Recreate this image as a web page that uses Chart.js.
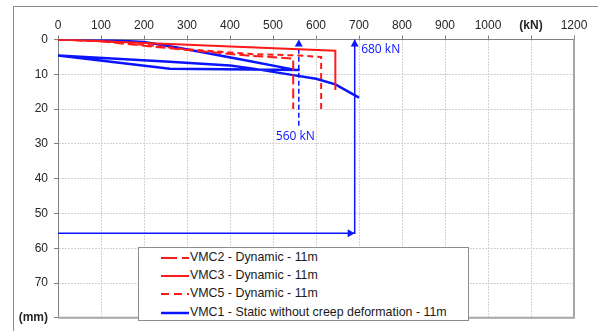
<!DOCTYPE html>
<html>
<head>
<meta charset="utf-8">
<script src="https://cdn.jsdelivr.net/npm/chart.js@4.4.1/dist/chart.umd.min.js"></script>
<style>
  html, body { margin: 0; padding: 0; background: #fff; }
  #wrap { position: relative; width: 598px; height: 331px; overflow: hidden; }
  #frame { position: absolute; left: 13px; top: 6px; width: 700px; height: 400px; border: 1px solid #8c8c8c; }
  canvas { position: absolute; left: 0; top: 0; }
  #legend {
    position: absolute; left: 138px; top: 247px; width: 329px; height: 72px;
    border: 1px solid #8c8c8c; background: #fff;
    font: 12.4px "Liberation Sans", Arial, sans-serif; color: #1a1a1a;
  }
  .row { position: absolute; left: 22px; height: 14px; line-height: 14px; white-space: nowrap; }
  .row svg { position: absolute; left: 0; top: 6px; }
  .row span { position: absolute; left: 29px; top: 0; }
</style>
</head>
<body>
<div id="wrap">
  <div id="frame"></div>
  <canvas id="chart" width="598" height="331"></canvas>
  <div id="legend"></div>
</div>
<script>
// load (kN) vs settlement (mm)
const xTicks = [0, 100, 200, 300, 400, 500, 600, 700, 800, 900, 1000, 1100, 1200];
const yTicks = [0, 10, 20, 30, 40, 50, 60, 70, 80];

const vmc2Force = [0, 100, 200, 300, 440, 547, 547];
const vmc2Disp  = [0, 0.5, 1.8, 3.0, 4.6, 5.5, 20];

const vmc3Force = [0, 645, 645];
const vmc3Disp  = [0, 3.2, 14.5];

const vmc5Force = [0, 100, 200, 300, 450, 560, 612, 612];
const vmc5Disp  = [0, 0.4, 1.5, 2.8, 4.2, 4.6, 5.0, 20];

// static test: loading, unloading, reloading
const vmc1Force = [0, 100, 200, 280, 420, 555, 562, 450, 260, 0, 250, 400, 450, 540, 600, 645, 700];
const vmc1Disp  = [0, 0.1, 0.7, 2.4, 5.6, 8.8, 8.8, 8.6, 8.4, 4.6, 6.3, 7.5, 8.3, 10.1, 11.3, 12.9, 16.7];

// arrows
const arrow560Force = [560, 560];
const arrow560Disp  = [24.8, 0];
const arrow680Force = [0, 690, 690];
const arrow680Disp  = [55.7, 55.7, 0];

const RED = '#ff1a1a';
const BLUE = '#0a14ff';

function pts(xs, ys) { return xs.map((x, i) => ({ x, y: ys[i] })); }

const legendItems = [
  { label: 'VMC2 - Dynamic - 11m', color: RED, dash: '16 5', w: 2 },
  { label: 'VMC3 - Dynamic - 11m', color: RED, dash: '', w: 2 },
  { label: 'VMC5 - Dynamic - 11m', color: RED, dash: '8 5', w: 2 },
  { label: 'VMC1 - Static without creep deformation - 11m', color: BLUE, dash: '', w: 2.5 }
];

const legendEl = document.getElementById('legend');
legendItems.forEach((it, i) => {
  const row = document.createElement('div');
  row.className = 'row';
  row.style.top = (2 + i * 18.2) + 'px';
  row.innerHTML = `<svg width="28" height="4"><line x1="0" y1="2" x2="28" y2="2" stroke="${it.color}" stroke-width="${it.w}" stroke-dasharray="${it.dash}"/></svg><span>${it.label}</span>`;
  legendEl.appendChild(row);
});

const extras = {
  id: 'extras',
  afterDatasetsDraw(chart) {
    const { ctx, chartArea: a, scales: { x, y } } = chart;
    ctx.save();
    // plot right / bottom border
    ctx.strokeStyle = '#a6a6a6';
    ctx.lineWidth = 2;
    ctx.beginPath();
    ctx.moveTo(a.right, a.top);
    ctx.lineTo(a.right, a.bottom);
    ctx.lineTo(a.left, a.bottom);
    ctx.stroke();

    // arrow heads
    ctx.fillStyle = BLUE;
    const up = (fx, fy) => {
      const px = x.getPixelForValue(fx), py = y.getPixelForValue(fy);
      ctx.beginPath();
      ctx.moveTo(px, py);
      ctx.lineTo(px - 4, py + 7);
      ctx.lineTo(px + 4, py + 7);
      ctx.closePath();
      ctx.fill();
    };
    const right = (fx, fy) => {
      const px = x.getPixelForValue(fx), py = y.getPixelForValue(fy);
      ctx.beginPath();
      ctx.moveTo(px, py);
      ctx.lineTo(px - 7, py - 4);
      ctx.lineTo(px - 7, py + 4);
      ctx.closePath();
      ctx.fill();
    };
    up(arrow560Force[1], arrow560Disp[1]);
    up(arrow680Force[2], arrow680Disp[2]);
    right(arrow680Force[1], arrow680Disp[1]);

    // labels
    ctx.font = '12px "Open Sans", sans-serif';
    ctx.textBaseline = 'middle';
    ctx.textAlign = 'center';
    ctx.fillText('560 kN', x.getPixelForValue(552), y.getPixelForValue(27.9));
    ctx.textAlign = 'left';
    ctx.fillText('680 kN', x.getPixelForValue(705), y.getPixelForValue(2.8));
    ctx.restore();
  }
};

const tickFont = (special) => (c) => ({
  family: '"Liberation Sans", Arial, sans-serif',
  size: 12,
  weight: c.tick && c.tick.value === special ? 'bold' : 'normal'
});

new Chart(document.getElementById('chart').getContext('2d'), {
  type: 'line',
  data: {
    datasets: [
      { label: 'VMC2', data: pts(vmc2Force, vmc2Disp), borderColor: RED, borderWidth: 2, borderDash: [10, 4] },
      { label: 'VMC3', data: pts(vmc3Force, vmc3Disp), borderColor: RED, borderWidth: 2 },
      { label: 'VMC5', data: pts(vmc5Force, vmc5Disp), borderColor: RED, borderWidth: 2, borderDash: [6, 4] },
      { label: 'VMC1', data: pts(vmc1Force, vmc1Disp), borderColor: BLUE, borderWidth: 2.5 },
      { label: 'a560', data: pts(arrow560Force, arrow560Disp), borderColor: BLUE, borderWidth: 1.5, borderDash: [5, 3] },
      { label: 'a680', data: pts(arrow680Force, arrow680Disp), borderColor: BLUE, borderWidth: 1.5 }
    ]
  },
  options: {
    responsive: false,
    animation: false,
    events: [],
    elements: { point: { radius: 0 }, line: { tension: 0, fill: false } },
    layout: { padding: { left: 0, top: 0, right: 24, bottom: 9.5 } },
    plugins: { legend: { display: false }, tooltip: { enabled: false } },
    scales: {
      x: {
        type: 'linear', position: 'top', min: 0, max: 1200,
        afterBuildTicks: s => { s.ticks = xTicks.map(v => ({ value: v })); },
        afterFit: s => { s.height = 39.5; },
        ticks: {
          color: '#262626', padding: 3, maxRotation: 0,
          font: tickFont(1100),
          callback: v => v === 1100 ? '(kN)' : v
        },
        grid: { color: '#d2d2d2', tickColor: '#808080', tickLength: 4, tickBorderDash: [] },
        border: { display: true, color: '#808080', width: 1, dash: [2, 1] }
      },
      y: {
        type: 'linear', reverse: true, min: 0, max: 80,
        afterBuildTicks: s => { s.ticks = yTicks.map(v => ({ value: v })); },
        afterFit: s => { s.width = 58; },
        ticks: {
          color: '#262626', padding: 6,
          font: tickFont(80),
          callback: v => v === 80 ? '(mm)' : v
        },
        grid: { color: '#d2d2d2', tickColor: '#808080', tickLength: 4, tickBorderDash: [] },
        border: { display: true, color: '#808080', width: 1, dash: [2, 1] }
      }
    }
  },
  plugins: [extras]
});
</script>
</body>
</html>
